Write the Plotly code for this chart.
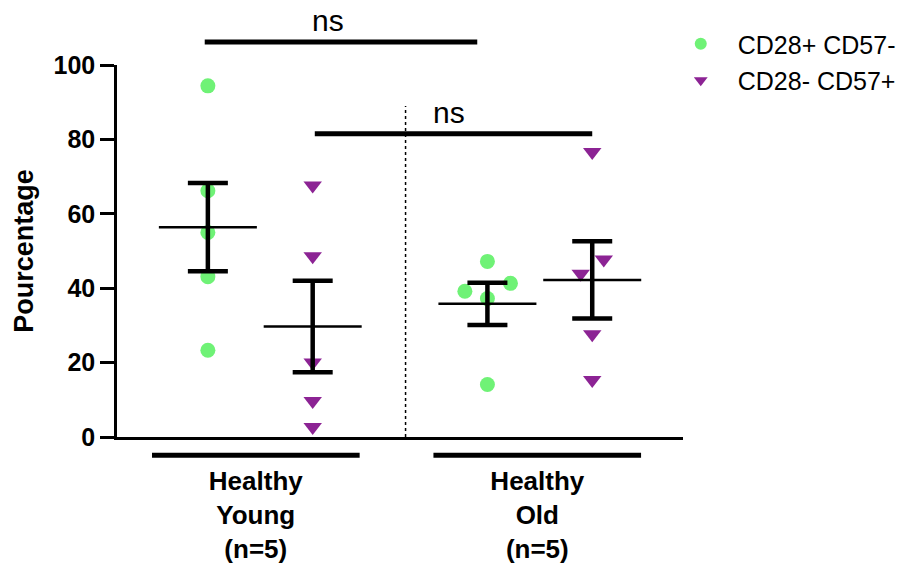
import numpy as np
import plotly.graph_objects as go

# ---------------- data ----------------
groups = ["Healthy<br>Young<br>(n=5)", "Healthy<br>Old<br>(n=5)"]
series_names = ["CD28+ CD57-", "CD28- CD57+"]

young_cd28pos = [94.4, 66.2, 55.0, 43.1, 23.3]
young_cd28neg = [67.6, 48.6, 20.0, 9.7, 2.7]
old_cd28pos = [47.2, 39.2, 41.3, 37.2, 14.1]
old_cd28neg = [76.6, 47.7, 43.9, 27.6, 15.3]

y_ticks = [0, 20, 40, 60, 80, 100]
y_title = "Pourcentage"
sig_labels = ["ns", "ns"]

# ---------------- layout helpers (positions / styles) ----------------
pos = {"young_pos": 0.0, "young_neg": 1.0, "old_pos": 2.667, "old_neg": 3.667}
jit_old_pos = [0.0, -0.215, 0.22, 0.0, 0.0]
jit_old_neg = [0.0, 0.11, -0.11, 0.0, 0.0]
GREEN = "#6FF276"
PURPLE = "#8C2394"
FONT = "Liberation Sans, Arial, Helvetica, sans-serif"

fig = go.Figure()

def xs(p, jit=None, n=5):
    return [p + (jit[i] if jit else 0.0) for i in range(n)]

# points
fig.add_trace(go.Scatter(
    x=xs(pos["young_pos"]) + xs(pos["old_pos"], jit_old_pos),
    y=young_cd28pos + old_cd28pos,
    mode="markers", name=series_names[0], legendgroup="a",
    marker=dict(symbol="circle", size=15, color=GREEN),
    cliponaxis=False,
))
fig.add_trace(go.Scatter(
    x=xs(pos["young_neg"]) + xs(pos["old_neg"], jit_old_neg),
    y=young_cd28neg + old_cd28neg,
    mode="markers", name=series_names[1], legendgroup="b",
    marker=dict(symbol="triangle-down", size=16, color=PURPLE),
    cliponaxis=False,
))

# mean +/- SEM
sets = [young_cd28pos, young_cd28neg, old_cd28pos, old_cd28neg]
xpos = [pos["young_pos"], pos["young_neg"], pos["old_pos"], pos["old_neg"]]
means = [float(np.mean(s)) for s in sets]
sems = [float(np.std(s, ddof=1) / np.sqrt(len(s))) for s in sets]
fig.add_trace(go.Scatter(
    x=xpos, y=means, mode="markers", showlegend=False,
    marker=dict(symbol="line-ew", size=70, color="black",
                line=dict(color="black", width=2.5)),
    error_y=dict(type="data", array=sems, visible=True, color="black",
                 thickness=4.5, width=20),
    cliponaxis=False,
))

# group underline bars
for x0, x1 in [(-0.533, 1.448), (2.152, 4.133)]:
    fig.add_shape(type="line", xref="x", yref="y domain", x0=x0, x1=x1,
                  y0=-0.049, y1=-0.049, line=dict(color="black", width=5))

# significance bars
sig_bars = [(-0.03, 2.57, 106.2, 1.15), (1.02, 3.667, 81.5, 2.305)]
for (x0, x1, lvl, tx), lab in zip(sig_bars, sig_labels):
    fig.add_shape(type="line", xref="x", yref="y domain", x0=x0, x1=x1,
                  y0=lvl / 100, y1=lvl / 100, line=dict(color="black", width=5))
    fig.add_annotation(x=tx, y=lvl / 100, xref="x", yref="paper", text=lab,
                       showarrow=False, yanchor="bottom", yshift=3,
                       font=dict(family=FONT, size=30, color="black"))

# dotted separator
fig.add_shape(type="line", xref="x", yref="y", x0=1.886, x1=1.886, y0=0, y1=89,
              line=dict(color="black", width=1.5, dash="dot"))

fig.update_layout(
    width=911, height=565,
    margin=dict(l=117, r=228, t=65, b=128, autoexpand=False),
    paper_bgcolor="white", plot_bgcolor="white",
    font=dict(family=FONT, color="black"),
    showlegend=True,
    legend=dict(x=0.966, y=1.118, xanchor="left", yanchor="top",
                font=dict(family=FONT, size=25, color="black"),
                itemwidth=64, itemsizing="constant",
                traceorder="grouped", tracegroupgap=1,
                bgcolor="rgba(0,0,0,0)"),
    xaxis=dict(range=[-0.867, 4.533], showgrid=False, zeroline=False,
               automargin=False,
               showline=True, linecolor="black", linewidth=2.5,
               ticks="", tickvals=[0.457, 3.143], ticktext=groups,
               ticklabelstandoff=19,
               tickfont=dict(family=FONT, size=26, color="black", weight="bold")),
    yaxis=dict(range=[0, 100], showgrid=False, zeroline=False,
               automargin=False,
               showline=True, linecolor="black", linewidth=2.5,
               ticks="outside", ticklen=14, tickwidth=2.5, tickcolor="black",
               tickvals=y_ticks,
               tickfont=dict(family=FONT, size=25, color="black", weight="bold"),
               title=dict(text=y_title, standoff=13,
                          font=dict(family=FONT, size=27, color="black", weight="bold"))),
)

fig.write_html("out.html", config={"displayModeBar": False},
               post_script="document.body.style.margin='0px';")
